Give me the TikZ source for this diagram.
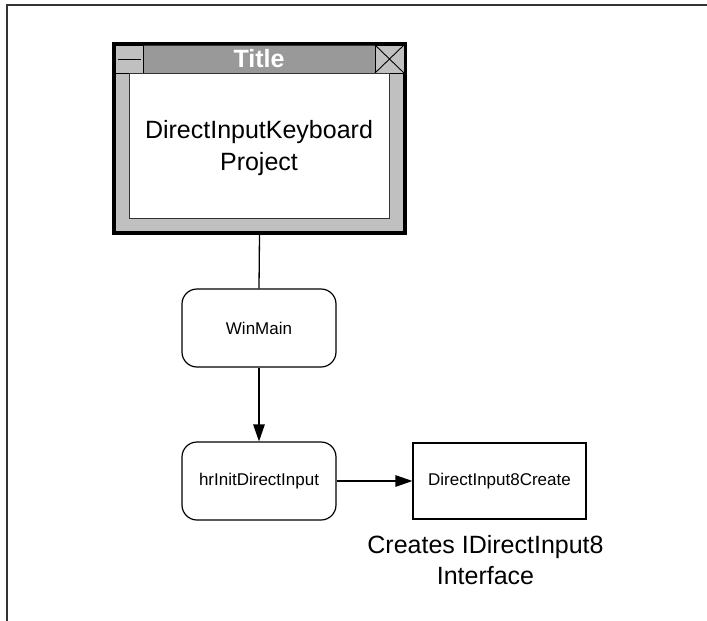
\documentclass[tikz,border=0pt]{standalone}
\usepackage{fontspec}
\setmainfont{Liberation Sans}
\usetikzlibrary{arrows.meta}
\definecolor{framegray}{HTML}{C0C0C0}
\definecolor{bargray}{HTML}{999999}
\definecolor{edgegray}{HTML}{333333}
\begin{document}
\begin{tikzpicture}[x=1pt,y=-1pt,
  bigtext/.style={font=\fontsize{25}{31}\selectfont},
  smalltext/.style={font=\fontsize{17}{20}\selectfont},
  roundbox/.style={draw=black, line width=1.2pt, rounded corners=15pt, minimum width=154pt, minimum height=78pt, inner sep=0pt, smalltext},
  squarebox/.style={draw=black, line width=1.2pt, minimum width=173pt, minimum height=76pt, inner sep=0pt, smalltext},
  conn/.style={draw=black, line width=1.3pt},
  arr/.style={conn, -{Triangle[length=17pt,width=11.5pt]}},
  thin/.style={draw=edgegray, line width=0.9pt}]
\useasboundingbox (0,0) rectangle (707,621);
% page frame
\draw[edgegray, line width=2pt] (707,5) -- (7,5) -- (7,621);
% window
\node (win) [draw=black, line width=3.5pt, fill=framegray, minimum width=291pt, minimum height=189pt, inner sep=0pt] at (259.5,138.5) {};
\node (bar) [thin, fill=bargray, minimum width=232pt, minimum height=28pt, inner sep=0pt, text=white, font=\fontsize{25}{25}\selectfont\bfseries] at (259,59) {Title};
\node (minb) [thin, draw=black, fill=framegray, minimum width=28pt, minimum height=28pt, inner sep=0pt] at (129,59) {};
\draw[black, line width=0.9pt] ([xshift=3pt]minb.west) -- ([xshift=-2pt]minb.east);
\node (closeb) [thin, draw=black, fill=framegray, minimum width=29pt, minimum height=28pt, inner sep=0pt] at (389.5,59) {};
\draw[black, line width=0.9pt] (closeb.north west) -- (closeb.south east) (closeb.south west) -- (closeb.north east);
\node (client) [thin, fill=white, minimum width=260pt, minimum height=145pt, inner sep=0pt] at (259,145.5) {};
\node (clienttext) [align=center, font=\fontsize{25}{32}\selectfont, inner sep=0pt] at (259,148) {DirectInputKeyboard\\Project};
% flow nodes
\node (wm) [roundbox] at (259,328) {WinMain};
\node (hr) [roundbox] at (259,481) {hrInitDirectInput};
\node (dc) [squarebox] at (499.5,481) {DirectInput8Create};
\node (cap) [align=center, bigtext, inner sep=0pt] at (485.5,560) {Creates IDirectInput8\\Interface};
% connectors
\draw[conn] (win.south) -- (wm.north);
\draw[arr] (wm.south) -- (hr.north);
\draw[arr] (hr.east) -- (dc.west);
\end{tikzpicture}
\end{document}
